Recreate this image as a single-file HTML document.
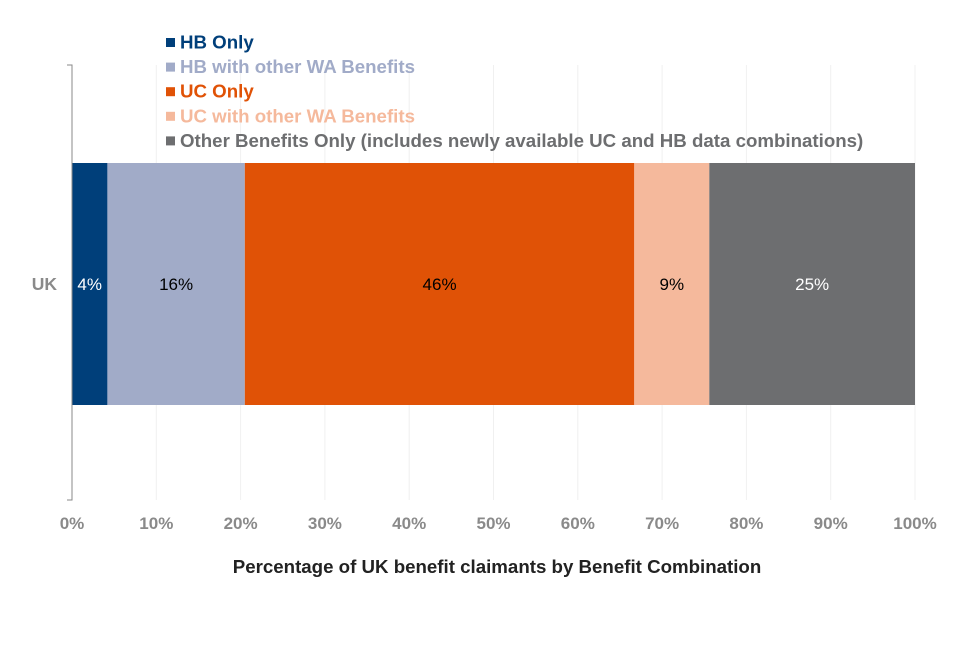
<!DOCTYPE html>
<html><head><meta charset="utf-8"><style>
body{margin:0;background:#fff;font-family:"Liberation Sans",Arial,sans-serif}
svg text{font-family:"Liberation Sans",Arial,sans-serif}
</style></head><body>
<svg id="chart" width="960" height="640">
<g id="grid"></g>
<g id="bars"></g>
<g id="axes"></g>
<g id="legend"></g>
<text x="497" y="573" text-anchor="middle" font-size="18.7" font-weight="bold" fill="#222">Percentage of UK benefit claimants by Benefit Combination</text>
</svg>
<script>
const categories=["UK"];
const seriesNames=["HB Only","HB with other WA Benefits","UC Only","UC with other WA Benefits","Other Benefits Only (includes newly available UC and HB data combinations)"];
const seriesValues=[4.2,16.3,46.2,8.9,24.4];
const seriesLabels=["4%","16%","46%","9%","25%"];
const tickValues=[0,10,20,30,40,50,60,70,80,90,100];
const colors=["#003f7a","#a1abc8","#e05206","#f5b99c","#6d6e70"];
const labelColors=["#fff","#000","#000","#000","#fff"];
const legendColors=["#003f7a","#a1abc8","#e05206","#f5b99c","#6d6e70"];
const NS="http://www.w3.org/2000/svg";
const x0=72,x1=915,yTop=65,yBot=500,barTop=163,barH=242;
const xs=v=>x0+(x1-x0)*v/100;
function mk(t,a,p){const e=document.createElementNS(NS,t);for(const k in a)e.setAttribute(k,a[k]);p.appendChild(e);return e;}
const grid=document.getElementById('grid'),bars=document.getElementById('bars'),axes=document.getElementById('axes'),legend=document.getElementById('legend');
tickValues.forEach(v=>{
 if(v>0){const g=mk('line',{x1:xs(v),x2:xs(v),y1:yTop,y2:yBot,stroke:'#f0f0f0','stroke-width':1},grid);
 
 }
 const t=mk('text',{x:xs(v),y:529,'text-anchor':'middle','font-size':17,'font-weight':'bold',fill:'#8a8a8a'},axes);
 t.textContent=v+'%';
 
 
});
let cum=0;
seriesValues.forEach((v,i)=>{
 const r=mk('rect',{x:xs(cum),y:barTop,width:xs(cum+v)-xs(cum),height:barH,fill:colors[i]},bars);
 
 
 const t=mk('text',{x:(xs(cum)+xs(cum+v))/2,y:barTop+barH/2+6,'text-anchor':'middle','font-size':17,fill:labelColors[i]},bars);
 t.textContent=seriesLabels[i];
 
 
 cum+=v;
});
const ax=mk('path',{d:`M67 ${yTop}H72V${yBot}H67`,fill:'none',stroke:'#888','stroke-width':1},axes);


const cl=mk('text',{x:57,y:barTop+barH/2+6,'text-anchor':'end','font-size':17.5,'font-weight':'bold',fill:'#8a8a8a'},axes);
cl.textContent=categories[0];


seriesNames.forEach((n,i)=>{
 const y=42+i*24.6;
 const g=mk('g',{},legend);
 
 
 mk('rect',{x:166,y:y-4,width:9,height:9,fill:legendColors[i]},g);
 const t=mk('text',{x:180,y:y+6.5,'font-size':18.7,'font-weight':'bold',fill:legendColors[i]},g);
 t.textContent=n;
});
</script>
</body></html>
